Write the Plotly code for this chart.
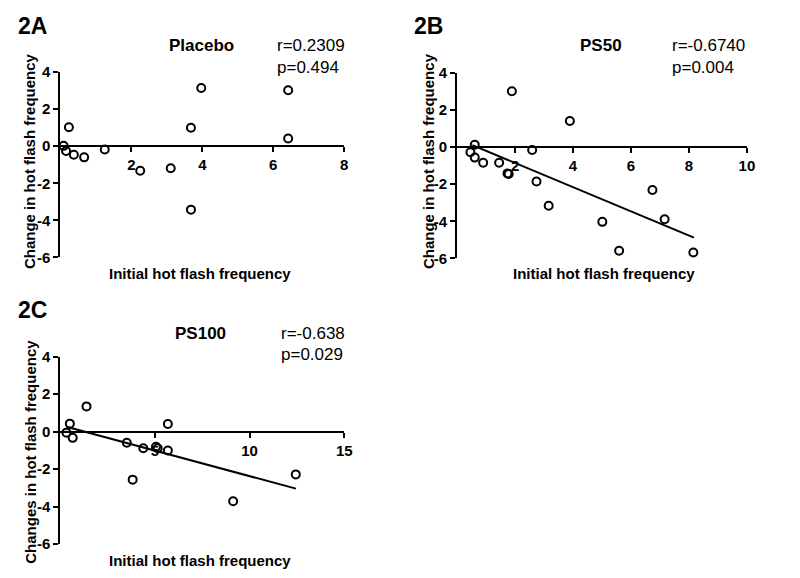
import plotly.graph_objects as go

W, H = 800, 578

# ---- data ----
a_x = [0.09, 0.16, 0.24, 0.38, 0.67, 1.25, 2.25, 3.11, 3.68, 3.68, 3.97, 6.42, 6.42]
a_y = [0.02, -0.26, 1.02, -0.46, -0.60, -0.18, -1.32, -1.19, 1.00, -3.42, 3.14, 3.02, 0.42]

b_x = [0.46, 0.61, 0.61, 0.90, 1.45, 1.74, 1.78, 1.89, 2.59, 2.74, 3.16, 3.89, 5.01, 5.59, 6.74, 7.16, 8.15]
b_y = [-0.28, 0.12, -0.57, -0.85, -0.85, -1.42, -1.45, 3.00, -0.16, -1.86, -3.16, 1.40, -4.03, -5.59, -2.31, -3.89, -5.68]
b_fit_x = [0.53, 8.17]
b_fit_y = [0.10, -4.88]

c_x = [0.32, 0.50, 0.65, 1.38, 3.51, 3.82, 4.38, 5.05, 5.14, 5.68, 5.68, 9.13, 12.44]
c_y = [-0.05, 0.43, -0.33, 1.35, -0.59, -2.56, -0.88, -0.81, -0.88, 0.41, -1.00, -3.71, -2.28]
c_fit_x = [0.32, 12.45]
c_fit_y = [0.26, -3.04]

y_ticks = [-6, -4, -2, 0, 2, 4]
a_xticks = [2, 4, 6, 8]
b_xticks = [2, 4, 6, 8, 10]
c_xticks = [5, 10, 15]

FONT = "Liberation Sans, Arial, sans-serif"

def fx(p):
    return p / W

def fy(p):
    return (H - p) / H

panels = [
    dict(x=a_x, y=a_y, fx_=None, fy_=None, xd=(61, 347.7), yd=(65, 256), xr=[0, 8], xt=a_xticks),
    dict(x=b_x, y=b_y, fx_=b_fit_x, fy_=b_fit_y, xd=(461.7, 754.5), yd=(65.7, 257), xr=[0, 10], xt=b_xticks),
    dict(x=c_x, y=c_y, fx_=c_fit_x, fy_=c_fit_y, xd=(61, 347.7), yd=(358.3, 551.3), xr=[0, 15], xt=c_xticks),
]

fig = go.Figure()
layout = dict(width=W, height=H, margin=dict(l=0, r=0, t=0, b=0),
              paper_bgcolor="white", plot_bgcolor="white", showlegend=False,
              font=dict(family=FONT, color="black"))

ymin, ymax = -6, 4
for i, p in enumerate(panels, start=1):
    sx = "" if i == 1 else str(i)
    xa, ya = "x" + sx, "y" + sx
    if p["fx_"] is not None:
        fig.add_trace(go.Scatter(x=p["fx_"], y=p["fy_"], mode="lines",
                                 line=dict(color="black", width=2),
                                 xaxis=xa, yaxis=ya, cliponaxis=False))
    fig.add_trace(go.Scatter(x=p["x"], y=p["y"], mode="markers",
                             marker=dict(symbol="circle-open", size=8, color="black",
                                         line=dict(width=2, color="black")),
                             xaxis=xa, yaxis=ya, cliponaxis=False))
    ybot = fy(p["yd"][1])
    ytop = fy(p["yd"][0])
    pos0 = ybot + (0 - ymin) / (ymax - ymin) * (ytop - ybot)
    layout["xaxis" + sx] = dict(domain=[fx(p["xd"][0]), fx(p["xd"][1])], range=p["xr"],
                                anchor="free", position=pos0, showgrid=False, zeroline=False,
                                showline=True, linecolor="black", linewidth=2,
                                ticks="outside", ticklen=5, tickwidth=2, tickcolor="black",
                                tickvals=p["xt"], ticktext=[str(v) for v in p["xt"]],
                                tickfont=dict(family=FONT, size=15, color="black", weight="bold"))
    layout["yaxis" + sx] = dict(domain=[ybot, ytop], range=[ymin, ymax], anchor=xa,
                                showgrid=False, zeroline=False, showline=True,
                                linecolor="black", linewidth=2, ticks="outside", ticklen=5,
                                tickwidth=2, tickcolor="black", tickvals=y_ticks,
                                ticktext=[str(v) for v in y_ticks],
                                tickfont=dict(family=FONT, size=15, color="black", weight="bold"))

ann = []
def text(t, x, y, size, bold=False, xanchor="left", angle=0):
    ann.append(dict(text=t, x=fx(x), y=fy(y), xref="paper", yref="paper",
                    xanchor=xanchor, yanchor="middle", showarrow=False, textangle=angle,
                    font=dict(family=FONT, size=size, color="black",
                              weight="bold" if bold else "normal")))

# panel A
text("2A", 16, 17, 23, True)
text("Placebo", 204, 38, 17, True, "center")
text("r=0.2309", 278, 38, 17)
text("p=0.494", 278, 60, 17)
text("Initial hot flash frequency", 202.5, 273, 15, True, "center")
text("Change in hot flash frequency", 30, 157, 15, True, "center", -90)
# panel B
text("2B", 416, 17, 23, True)
text("PS50", 607.5, 38, 17, True, "center")
text("r=-0.6740", 677, 38, 17)
text("p=0.004", 677, 60, 17)
text("Initial hot flash frequency", 610, 273, 15, True, "center")
text("Change in hot flash frequency", 433, 157, 15, True, "center", -90)
# panel C
text("2C", 16, 310, 23, True)
text("PS100", 202.5, 334, 17, True, "center")
text("r=-0.638", 282, 334, 17)
text("p=0.029", 282, 356, 17)
text("Initial hot flash frequency", 202.5, 568, 15, True, "center")
text("Changes in hot flash frequency", 30, 456.5, 15, True, "center", -90)

layout["annotations"] = ann
fig.update_layout(**layout)
fig.write_html("out.html", config={"displayModeBar": False},
               post_script="document.body.style.margin='0';")
